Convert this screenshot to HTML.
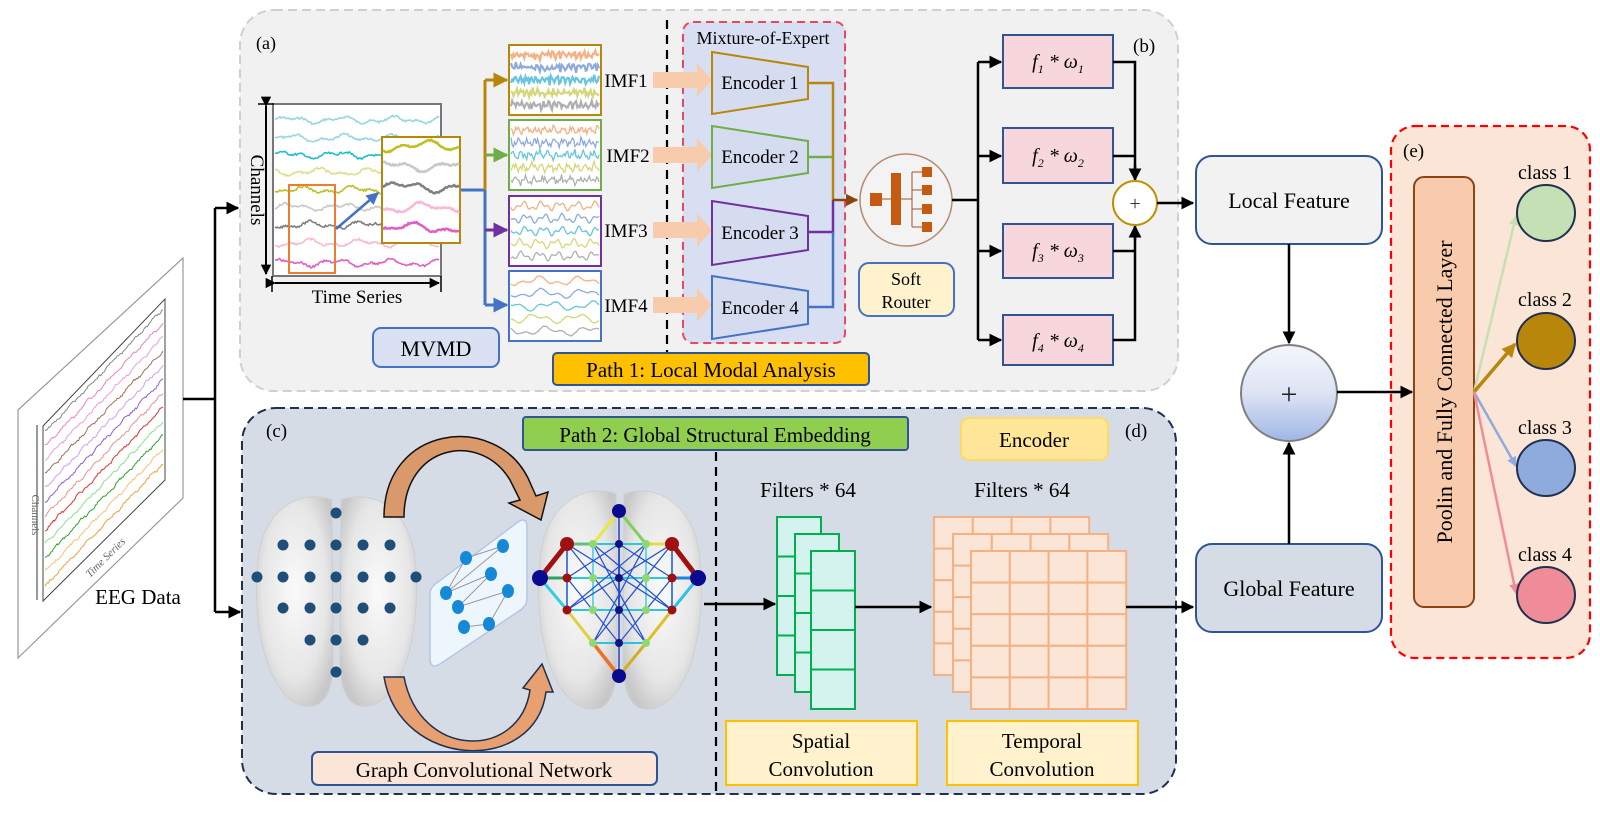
<!DOCTYPE html>
<html><head><meta charset="utf-8">
<style>
html,body{margin:0;padding:0;background:#fff;}
svg{display:block;font-family:"Liberation Serif",serif;}
</style></head>
<body>
<svg id="s" width="1600" height="815" viewBox="0 0 1600 815" xmlns="http://www.w3.org/2000/svg">
<defs>
<marker id="ak" viewBox="0 0 10 10" refX="9" refY="5" markerWidth="5.2" markerHeight="5.2" orient="auto"><path d="M0,0L10,5L0,10z" fill="#000"/></marker>
<marker id="ag" viewBox="0 0 10 10" refX="9" refY="5" markerWidth="5" markerHeight="5" orient="auto"><path d="M0,0L10,5L0,10z" fill="#b8860b"/></marker>
<marker id="agr" viewBox="0 0 10 10" refX="9" refY="5" markerWidth="5" markerHeight="5" orient="auto"><path d="M0,0L10,5L0,10z" fill="#70ad47"/></marker>
<marker id="ap" viewBox="0 0 10 10" refX="9" refY="5" markerWidth="5" markerHeight="5" orient="auto"><path d="M0,0L10,5L0,10z" fill="#7030a0"/></marker>
<marker id="ab" viewBox="0 0 10 10" refX="9" refY="5" markerWidth="5" markerHeight="5" orient="auto"><path d="M0,0L10,5L0,10z" fill="#4472c4"/></marker>
<marker id="abr" viewBox="0 0 10 10" refX="9" refY="5" markerWidth="5" markerHeight="5" orient="auto"><path d="M0,0L10,5L0,10z" fill="#8b4513"/></marker>
<marker id="c1" viewBox="0 0 10 10" refX="9" refY="5" markerWidth="4" markerHeight="4" orient="auto"><path d="M0,0L10,5L0,10z" fill="#c5e0b4"/></marker>
<marker id="c2" viewBox="0 0 10 10" refX="9" refY="5" markerWidth="4" markerHeight="4" orient="auto"><path d="M0,0L10,5L0,10z" fill="#b8860b"/></marker>
<marker id="c3" viewBox="0 0 10 10" refX="9" refY="5" markerWidth="4" markerHeight="4" orient="auto"><path d="M0,0L10,5L0,10z" fill="#8faadc"/></marker>
<marker id="c4" viewBox="0 0 10 10" refX="9" refY="5" markerWidth="4" markerHeight="4" orient="auto"><path d="M0,0L10,5L0,10z" fill="#f08c98"/></marker>
<linearGradient id="plusg" x1="0" y1="0" x2="0" y2="1"><stop offset="0" stop-color="#f4f6fb"/><stop offset="0.5" stop-color="#dde4f4"/><stop offset="1" stop-color="#9fb6e6"/></linearGradient>
<radialGradient id="brain" cx="0.5" cy="0.45" r="0.6"><stop offset="0" stop-color="#fafafa"/><stop offset="0.7" stop-color="#e6e6e6"/><stop offset="1" stop-color="#c8c8c8"/></radialGradient>
</defs>

<rect x="240" y="10" width="938" height="381" rx="34" fill="#f1f1f1" stroke="#d0d0d0" stroke-width="2" stroke-dasharray="9,5"/>
<rect x="242" y="408" width="934" height="386" rx="34" fill="#d6dce5" stroke="#1f3050" stroke-width="2" stroke-dasharray="9,5"/>
<rect x="1391" y="126" width="199" height="532" rx="24" fill="#fbe5d6" stroke="#ff0000" stroke-width="2.2" stroke-dasharray="8,5"/>

<polygon points="18,410 183,258 183,498 18,658" fill="#fff" stroke="#999" stroke-width="1.2"/>
<polygon points="43,426 165,299 165,480 43,601" fill="#fff" stroke="#444" stroke-width="1"/>
<g id="eegw"></g>
<line x1="37" y1="425" x2="37" y2="600" stroke="#333" stroke-width="1"/>
<text x="32" y="515" font-size="11" fill="#666" transform="rotate(90 32 515)" text-anchor="middle">Channels</text>
<text x="108" y="560" font-size="11" fill="#666" font-style="italic" transform="rotate(-45 108 560)" text-anchor="middle">Time Series</text>
<text x="138" y="604" font-size="21" text-anchor="middle">EEG Data</text>

<path d="M183,399 H215 M215,208 V612" stroke="#000" stroke-width="2.5" fill="none"/>
<line x1="215" y1="208" x2="238" y2="208" stroke="#000" stroke-width="2.5" marker-end="url(#ak)"/>
<line x1="215" y1="612" x2="240" y2="612" stroke="#000" stroke-width="2.5" marker-end="url(#ak)"/>

<text x="256" y="49" font-size="18">(a)</text>
<rect x="273" y="104" width="168" height="172" fill="#fff" stroke="#777" stroke-width="2"/>
<g id="sigw"></g>
<line x1="266" y1="106" x2="266" y2="274" stroke="#000" stroke-width="2" marker-end="url(#ak)" marker-start="url(#ak)"/>
<line x1="275" y1="283" x2="439" y2="283" stroke="#000" stroke-width="2" marker-end="url(#ak)" marker-start="url(#ak)"/>
<line x1="258" y1="104" x2="274" y2="104" stroke="#000" stroke-width="1.5"/>
<line x1="272" y1="276" x2="272" y2="292" stroke="#000" stroke-width="1.5"/>
<line x1="441" y1="276" x2="441" y2="292" stroke="#000" stroke-width="1.5"/>
<text x="251" y="190" font-size="19" transform="rotate(90 251 190)" text-anchor="middle">Channels</text>
<text x="357" y="303" font-size="19" text-anchor="middle">Time Series</text>
<rect x="289" y="185" width="46" height="88" fill="none" stroke="#ed7d31" stroke-width="2"/>
<rect x="382" y="137" width="78" height="106" fill="#fff" stroke="#b8860b" stroke-width="2"/>
<g id="zw"></g>
<line x1="336" y1="229" x2="378" y2="193" stroke="#4472c4" stroke-width="2.5" marker-end="url(#ab)"/>

<path d="M461,190 H485 V305" stroke="#4472c4" stroke-width="3" fill="none"/>
<path d="M485,190 V80" stroke="#b8860b" stroke-width="3" fill="none"/>
<line x1="485" y1="80" x2="507" y2="80" stroke="#b8860b" stroke-width="3" marker-end="url(#ag)"/>
<line x1="485" y1="155" x2="507" y2="155" stroke="#70ad47" stroke-width="3" marker-end="url(#agr)"/>
<line x1="485" y1="230" x2="507" y2="230" stroke="#7030a0" stroke-width="3" marker-end="url(#ap)"/>
<line x1="485" y1="305" x2="507" y2="305" stroke="#4472c4" stroke-width="3" marker-end="url(#ab)"/>

<rect x="509" y="45" width="92" height="70" fill="#fff" stroke="#b8860b" stroke-width="2"/>
<rect x="509" y="120" width="92" height="70" fill="#fff" stroke="#70ad47" stroke-width="2"/>
<rect x="509" y="196" width="92" height="70" fill="#fff" stroke="#7030a0" stroke-width="2"/>
<rect x="509" y="271" width="92" height="70" fill="#fff" stroke="#4472c4" stroke-width="2"/>
<g id="imfw"></g>
<g font-size="19" text-anchor="middle">
<text x="626" y="87">IMF1</text><text x="628" y="162">IMF2</text><text x="626" y="237">IMF3</text><text x="626" y="312">IMF4</text>
</g>

<rect x="373" y="328" width="126" height="39" rx="8" fill="#d9e1f2" stroke="#4472c4" stroke-width="2"/>
<text x="436" y="356" font-size="22" text-anchor="middle">MVMD</text>

<rect x="683" y="22" width="162" height="321" rx="10" fill="#d9dff2" stroke="#e8485f" stroke-width="2" stroke-dasharray="8,5"/>
<line x1="667" y1="20" x2="667" y2="372" stroke="#000" stroke-width="2.2" stroke-dasharray="9,6"/>
<text x="763" y="44" font-size="18" text-anchor="middle">Mixture-of-Expert</text>
<g fill="#f8cbad">
<polygon points="653,72 697,72 697,63 712,80 697,97 697,88 653,88"/>
<polygon points="653,147 697,147 697,138 712,155 697,172 697,163 653,163"/>
<polygon points="653,222 697,222 697,213 712,230 697,247 697,238 653,238"/>
<polygon points="653,297 697,297 697,288 712,305 697,322 697,313 653,313"/>
</g>
<g stroke-width="2" fill="#d6dcef">
<polygon points="712,52 808,67 808,99 712,114" stroke="#b8860b"/>
<polygon points="712,126 808,141 808,173 712,188" stroke="#70ad47"/>
<polygon points="712,201 808,216 808,250 712,265" stroke="#7030a0"/>
<polygon points="712,276 808,291 808,324 712,339" stroke="#4472c4"/>
</g>
<g font-size="19" text-anchor="middle">
<text x="760" y="89">Encoder 1</text><text x="760" y="163">Encoder 2</text><text x="760" y="239">Encoder 3</text><text x="760" y="314">Encoder 4</text>
</g>
<path d="M808,83 H833 V200" stroke="#b8860b" stroke-width="2.5" fill="none"/>
<path d="M808,157 H833" stroke="#70ad47" stroke-width="2.5" fill="none"/>
<path d="M808,232 H833 V200" stroke="#7030a0" stroke-width="2.5" fill="none"/>
<path d="M808,307 H833 V232" stroke="#4472c4" stroke-width="2.5" fill="none"/>
<line x1="833" y1="200" x2="857" y2="200" stroke="#8b4513" stroke-width="2.5" marker-end="url(#abr)"/>

<circle cx="906" cy="200" r="46" fill="#f3f3f3" stroke="#b58a70" stroke-width="1.5"/>
<g fill="#c55a11">
<rect x="870" y="193" width="12" height="13"/>
<rect x="891" y="173" width="10" height="52"/>
<rect x="922" y="167" width="10" height="10"/><rect x="922" y="185" width="10" height="10"/><rect x="922" y="204" width="10" height="10"/><rect x="922" y="222" width="10" height="10"/>
</g>
<path d="M882,199 H891 M901,199 H912 M912,172 V227 M912,172 H922 M912,190 H922 M912,209 H922 M912,227 H922" stroke="#a0522d" stroke-width="1" fill="none"/>
<rect x="859" y="263" width="95" height="53" rx="10" fill="#fff2cc" stroke="#4472c4" stroke-width="2"/>
<text x="906" y="285" font-size="18" text-anchor="middle">Soft</text>
<text x="906" y="308" font-size="18" text-anchor="middle">Router</text>

<path d="M952,200 H978 M978,62 V340" stroke="#000" stroke-width="2.5" fill="none"/>
<g stroke="#000" stroke-width="2.5" marker-end="url(#ak)">
<line x1="978" y1="62" x2="1001" y2="62"/><line x1="978" y1="156" x2="1001" y2="156"/><line x1="978" y1="251" x2="1001" y2="251"/><line x1="978" y1="340" x2="1001" y2="340"/>
</g>
<g fill="#f8d7dc" stroke="#2f5597" stroke-width="2">
<rect x="1003" y="35" width="110" height="53"/><rect x="1003" y="128" width="110" height="55"/><rect x="1003" y="224" width="110" height="54"/><rect x="1003" y="315" width="110" height="50"/>
</g>
<g font-size="20" font-style="italic" text-anchor="middle">
<text x="1058" y="68">f<tspan font-size="12" dy="5">1</tspan><tspan dy="-5"> * ω</tspan><tspan font-size="12" dy="5">1</tspan></text>
<text x="1058" y="162">f<tspan font-size="12" dy="5">2</tspan><tspan dy="-5"> * ω</tspan><tspan font-size="12" dy="5">2</tspan></text>
<text x="1058" y="257">f<tspan font-size="12" dy="5">3</tspan><tspan dy="-5"> * ω</tspan><tspan font-size="12" dy="5">3</tspan></text>
<text x="1058" y="347">f<tspan font-size="12" dy="5">4</tspan><tspan dy="-5"> * ω</tspan><tspan font-size="12" dy="5">4</tspan></text>
</g>
<path d="M1113,62 H1135 V176 M1113,156 H1135 M1113,251 H1135 M1113,340 H1135 V230" stroke="#000" stroke-width="2.5" fill="none"/>
<line x1="1135" y1="165" x2="1135" y2="180" stroke="#000" stroke-width="2.5" marker-end="url(#ak)"/>
<line x1="1135" y1="240" x2="1135" y2="226" stroke="#000" stroke-width="2.5" marker-end="url(#ak)"/>
<circle cx="1135" cy="203" r="22" fill="#fff" stroke="#bf9000" stroke-width="2"/>
<text x="1135" y="210" font-size="20" text-anchor="middle" fill="#333">+</text>
<text x="1133" y="52" font-size="19">(b)</text>
<line x1="1157" y1="203" x2="1193" y2="203" stroke="#000" stroke-width="2.5" marker-end="url(#ak)"/>

<rect x="553" y="353" width="316" height="32" rx="4" fill="#ffc000" stroke="#2f5597" stroke-width="2"/>
<text x="711" y="377" font-size="21" text-anchor="middle">Path 1: Local Modal Analysis</text>

<rect x="1196" y="156" width="186" height="88" rx="16" fill="#f2f2f2" stroke="#2f5597" stroke-width="2"/>
<text x="1289" y="208" font-size="22" text-anchor="middle">Local Feature</text>
<rect x="1196" y="544" width="186" height="88" rx="16" fill="#d6dce5" stroke="#2f5597" stroke-width="2"/>
<text x="1289" y="596" font-size="22" text-anchor="middle">Global Feature</text>
<line x1="1289" y1="244" x2="1289" y2="343" stroke="#000" stroke-width="2.5" marker-end="url(#ak)"/>
<line x1="1289" y1="544" x2="1289" y2="443" stroke="#000" stroke-width="2.5" marker-end="url(#ak)"/>
<circle cx="1289" cy="393" r="48" fill="url(#plusg)" stroke="#808080" stroke-width="2"/>
<text x="1289" y="404" font-size="30" text-anchor="middle" fill="#222">+</text>
<line x1="1337" y1="392" x2="1412" y2="392" stroke="#000" stroke-width="2.5" marker-end="url(#ak)"/>

<text x="1403" y="157" font-size="19">(e)</text>
<rect x="1414" y="177" width="60" height="430" rx="10" fill="#f8cbad" stroke="#8b4513" stroke-width="2"/>
<text x="1452" y="392" font-size="22" text-anchor="middle" transform="rotate(-90 1452 392)">Poolin and Fully Connected Layer</text>
<g stroke-width="2.5" fill="none">
<line x1="1474" y1="392" x2="1516" y2="216" stroke="#c5e0b4" marker-end="url(#c1)"/>
<line x1="1474" y1="392" x2="1515" y2="344" stroke="#b8860b" stroke-width="3.5" marker-end="url(#c2)"/>
<line x1="1474" y1="392" x2="1516" y2="466" stroke="#8faadc" marker-end="url(#c3)"/>
<line x1="1474" y1="392" x2="1516" y2="593" stroke="#f08c98" marker-end="url(#c4)"/>
</g>
<g stroke="#1f3050" stroke-width="2">
<ellipse cx="1546" cy="213" rx="29" ry="28" fill="#c5e0b4"/>
<ellipse cx="1546" cy="341" rx="29" ry="28" fill="#b8860b"/>
<ellipse cx="1546" cy="468" rx="29" ry="28" fill="#8faadc"/>
<ellipse cx="1546" cy="595" rx="29" ry="28" fill="#f08c98"/>
</g>
<g font-size="20" text-anchor="middle">
<text x="1545" y="179">class 1</text><text x="1545" y="306">class 2</text><text x="1545" y="434">class 3</text><text x="1545" y="561">class 4</text>
</g>

<text x="266" y="437" font-size="19">(c)</text>
<text x="1125" y="437" font-size="19">(d)</text>
<rect x="523" y="417" width="385" height="33" rx="3" fill="#8fce4f" stroke="#2f5597" stroke-width="2"/>
<text x="715" y="442" font-size="21" text-anchor="middle">Path 2: Global Structural Embedding</text>
<rect x="961" y="418" width="147" height="42" rx="8" fill="#ffe699" stroke="#ffd966" stroke-width="2"/>
<text x="1034" y="447" font-size="21" text-anchor="middle">Encoder</text>
<line x1="716" y1="452" x2="716" y2="794" stroke="#000" stroke-width="2.2" stroke-dasharray="9,6"/>

<path d="M332,500 C300,488 262,510 258,560 C252,610 262,690 300,705 C325,712 333,690 333,660 Z" fill="url(#brain)" stroke="#cfcfcf"/>
<path d="M341,500 C373,488 411,510 415,560 C421,610 411,690 373,705 C348,712 340,690 340,660 Z" fill="url(#brain)" stroke="#cfcfcf"/>
<g id="ldots" fill="#1f4e79"></g>

<path d="M438,582 L518,522 Q527,516 527,528 L527,598 Q527,606 519,611 L440,664 Q430,670 430,658 L430,594 Q430,587 438,582Z" fill="#eef6fd" stroke="#b4c7e7" stroke-width="1.5"/>
<g stroke="#999" stroke-width="1">
<path d="M446,593 L466,558 M446,593 L503,546 M446,593 L491,574 M458,607 L491,574 M458,607 L508,591 M464,627 L489,624 M489,624 L508,591 M466,558 L503,546"/>
</g>
<g fill="#1589d8">
<ellipse cx="466" cy="558" rx="6" ry="7"/><ellipse cx="503" cy="546" rx="6" ry="7"/><ellipse cx="491" cy="574" rx="6" ry="7"/><ellipse cx="446" cy="593" rx="6" ry="7"/><ellipse cx="508" cy="591" rx="6" ry="7"/><ellipse cx="458" cy="607" rx="6" ry="7"/><ellipse cx="464" cy="627" rx="6" ry="7"/><ellipse cx="489" cy="624" rx="6" ry="7"/>
</g>

<path d="M404,517 C404,445 480,430 510,480 L520,500 L509,503 L541,520 L548,492 L536,496 L528,478 C495,412 384,425 384,517 Z" fill="#d9996a" stroke="#111" stroke-width="1.5"/>
<path d="M404,677 C420,760 520,760 530,690 L523,688 L542,664 L553,692 L546,692 C535,775 400,770 384,677 Z" fill="#e8a070" stroke="#1f3050" stroke-width="1.5"/>

<path d="M616,494 C584,482 544,505 540,560 C534,615 545,695 585,708 C610,715 617,690 617,660 Z" fill="url(#brain)" stroke="#cfcfcf"/>
<path d="M624,494 C656,482 696,505 700,560 C706,615 695,695 655,708 C630,715 623,690 623,660 Z" fill="url(#brain)" stroke="#cfcfcf"/>
<g id="net"></g>

<line x1="704" y1="604" x2="775" y2="604" stroke="#000" stroke-width="2.5" marker-end="url(#ak)"/>
<text x="808" y="497" font-size="21" text-anchor="middle">Filters * 64</text>
<text x="1022" y="497" font-size="21" text-anchor="middle">Filters * 64</text>
<g id="conv"></g>
<line x1="855" y1="607" x2="931" y2="607" stroke="#000" stroke-width="2.5" marker-end="url(#ak)"/>
<line x1="1126" y1="607" x2="1193" y2="607" stroke="#000" stroke-width="2.5" marker-end="url(#ak)"/>
<rect x="726" y="721" width="191" height="64" fill="#fff2cc" stroke="#ffc000" stroke-width="2"/>
<text x="821" y="748" font-size="21" text-anchor="middle">Spatial</text>
<text x="821" y="776" font-size="21" text-anchor="middle">Convolution</text>
<rect x="947" y="721" width="191" height="64" fill="#fff2cc" stroke="#ffc000" stroke-width="2"/>
<text x="1042" y="748" font-size="21" text-anchor="middle">Temporal</text>
<text x="1042" y="776" font-size="21" text-anchor="middle">Convolution</text>
<rect x="312" y="752" width="345" height="33" rx="6" fill="#fbe5d6" stroke="#2f5597" stroke-width="2"/>
<text x="484" y="777" font-size="21" text-anchor="middle">Graph Convolutional Network</text>
</svg>
<script>
var NS="http://www.w3.org/2000/svg";
var seed=7;function rnd(){seed=(seed*9301+49297)%233280;return seed/233280;}
function wave(g,x0,x1,y,amp,freq,col,w,slope,noise){
  var d="",n=Math.round((x1-x0)/1.2),ph=rnd()*6,ph2=rnd()*6;
  for(var i=0;i<=n;i++){var x=x0+(x1-x0)*i/n;var t=(x-x0);
    var yy=y+slope*t+amp*(Math.sin(t*freq+ph)*0.6+Math.sin(t*freq*2.3+ph2)*0.4)+(rnd()-0.5)*noise;
    d+=(i?"L":"M")+x.toFixed(1)+","+yy.toFixed(1);}
  var p=document.createElementNS(NS,"path");p.setAttribute("d",d);p.setAttribute("stroke",col);
  p.setAttribute("stroke-width",w);p.setAttribute("fill","none");document.getElementById(g).appendChild(p);}
var sc=["#9ad6e0","#9ad6e0","#1fbdd0","#dede90","#bfbf20","#c8c8c8","#808080","#f8b8d8","#e060c0"];
var sy=[120,138,155,172,190,207,225,243,263];
for(var i=0;i<9;i++)wave("sigw",275,439,sy[i],4,0.12,sc[i],1.6,0,2);
var zc=["#bfbf20","#c8c8c8","#808080","#f8b8d8","#e060c0"],zy=[146,166,187,208,228];
for(var i=0;i<5;i++)wave("zw",383,459,zy[i],6,0.09,zc[i],2.5,0,1.5);
var ic=["#f4b183","#8faadc","#67c5dc","#d6d67a","#b0b0b0"];
var tops=[45,120,196,271],fr=[1.2,0.7,0.35,0.15],am=[3,4,5,5];
for(var k=0;k<4;k++)for(var j=0;j<5;j++)wave("imfw",511,599,tops[k]+10+j*12.5,am[k],fr[k],ic[j],k==0?2.2:1.3,0,k<2?5:0.8);
var ec=["#888","#f080c0","#f0a0d0","#a07060","#d0a0f0","#9060d0","#f09090","#e03030","#90e090","#30a030","#f8c080","#f0a040"];
for(var i=0;i<12;i++)wave("eegw",45,163,432+i*14,1.5,0.3,ec[i],1,-1.04,2);
var ld=document.getElementById("ldots");
var rows=[[513,[336]],[545,[283,310,336,363,390]],[577,[257,283,310,336,363,390,416]],[608,[283,310,336,363,390]],[640,[310,336,363]],[672,[336]]];
rows.forEach(function(r){r[1].forEach(function(x){var c=document.createElementNS(NS,"circle");c.setAttribute("cx",x);c.setAttribute("cy",r[0]);c.setAttribute("r",5.5);ld.appendChild(c);});});
var net=document.getElementById("net");
function L(x1,y1,x2,y2,c,w){var l=document.createElementNS(NS,"line");l.setAttribute("x1",x1);l.setAttribute("y1",y1);l.setAttribute("x2",x2);l.setAttribute("y2",y2);l.setAttribute("stroke",c);l.setAttribute("stroke-width",w);net.appendChild(l);}
function C(x,y,r,c){var e=document.createElementNS(NS,"circle");e.setAttribute("cx",x);e.setAttribute("cy",y);e.setAttribute("r",r);e.setAttribute("fill",c);net.appendChild(e);}
var X=[567,593,619,646,672],Y=[544,578,610];
for(var a=0;a<3;a++)L(567,Y[a],672,Y[a],"#28c8e0",2);
for(var b=0;b<5;b++)L(X[b],544,X[b],610,b%2?"#40d0e8":"#2060e0",1.6);
L(593,643,646,643,"#30c0e0",2);L(619,511,619,676,"#2040c0",1.5);
[[567,544,646,643],[672,544,593,643],[593,544,672,610],[646,544,567,610],[567,544,672,610],[672,544,567,610],[593,544,646,643],[646,544,593,643],[619,544,672,578],[619,544,567,578],[567,578,619,643],[672,578,619,643]].forEach(function(q){L(q[0],q[1],q[2],q[3],"#2050d0",1.2);});
L(619,511,593,544,"#e8e840",3);L(619,511,646,544,"#80d060",3);L(593,544,567,544,"#60c080",3);L(646,544,672,544,"#e0e040",3);
L(567,544,540,578,"#a01010",5);L(672,544,698,578,"#a01010",5);L(540,578,567,610,"#30d0e0",3);L(698,578,672,610,"#30c0f0",3);
L(540,578,567,578,"#30a060",3);L(672,578,698,578,"#2080e0",3);
L(567,610,593,643,"#e0d040",3);L(672,610,646,643,"#e0c020",3);L(593,643,619,676,"#f07020",3.5);L(646,643,619,676,"#d0b020",3);
[[567,544],[672,544]].forEach(function(p){C(p[0],p[1],7,"#a01010");});
[[567,578],[672,578],[567,610],[672,610]].forEach(function(p){C(p[0],p[1],4.5,"#a01010");});
[[593,544],[646,544],[593,578],[646,578],[593,610],[646,610],[593,643],[646,643]].forEach(function(p){C(p[0],p[1],4,"#90d870");});
[[619,544],[619,578],[619,610],[619,643]].forEach(function(p){C(p[0],p[1],4,"#101080");});
C(619,511,7,"#0a0a90");C(619,676,7,"#0a0a90");C(540,578,8,"#0a0a90");C(698,578,8,"#0a0a90");
var cv=document.getElementById("conv");
function R(x,y,w,h,f,s){var r=document.createElementNS(NS,"rect");r.setAttribute("x",x);r.setAttribute("y",y);r.setAttribute("width",w);r.setAttribute("height",h);r.setAttribute("fill",f);r.setAttribute("stroke",s);r.setAttribute("stroke-width",2);cv.appendChild(r);}
[[777,517],[795,534],[811,551]].forEach(function(p){for(var i=0;i<4;i++)R(p[0],p[1]+i*39.5,44,39.5,"#d5f3ee","#00b050");});
[[934,517],[953,534],[971,551]].forEach(function(p){for(var i=0;i<5;i++)for(var j=0;j<4;j++)R(p[0]+j*38.8,p[1]+i*31.6,38.8,31.6,"#fbe5d6","#f4b183");});
</script>
</body></html>
